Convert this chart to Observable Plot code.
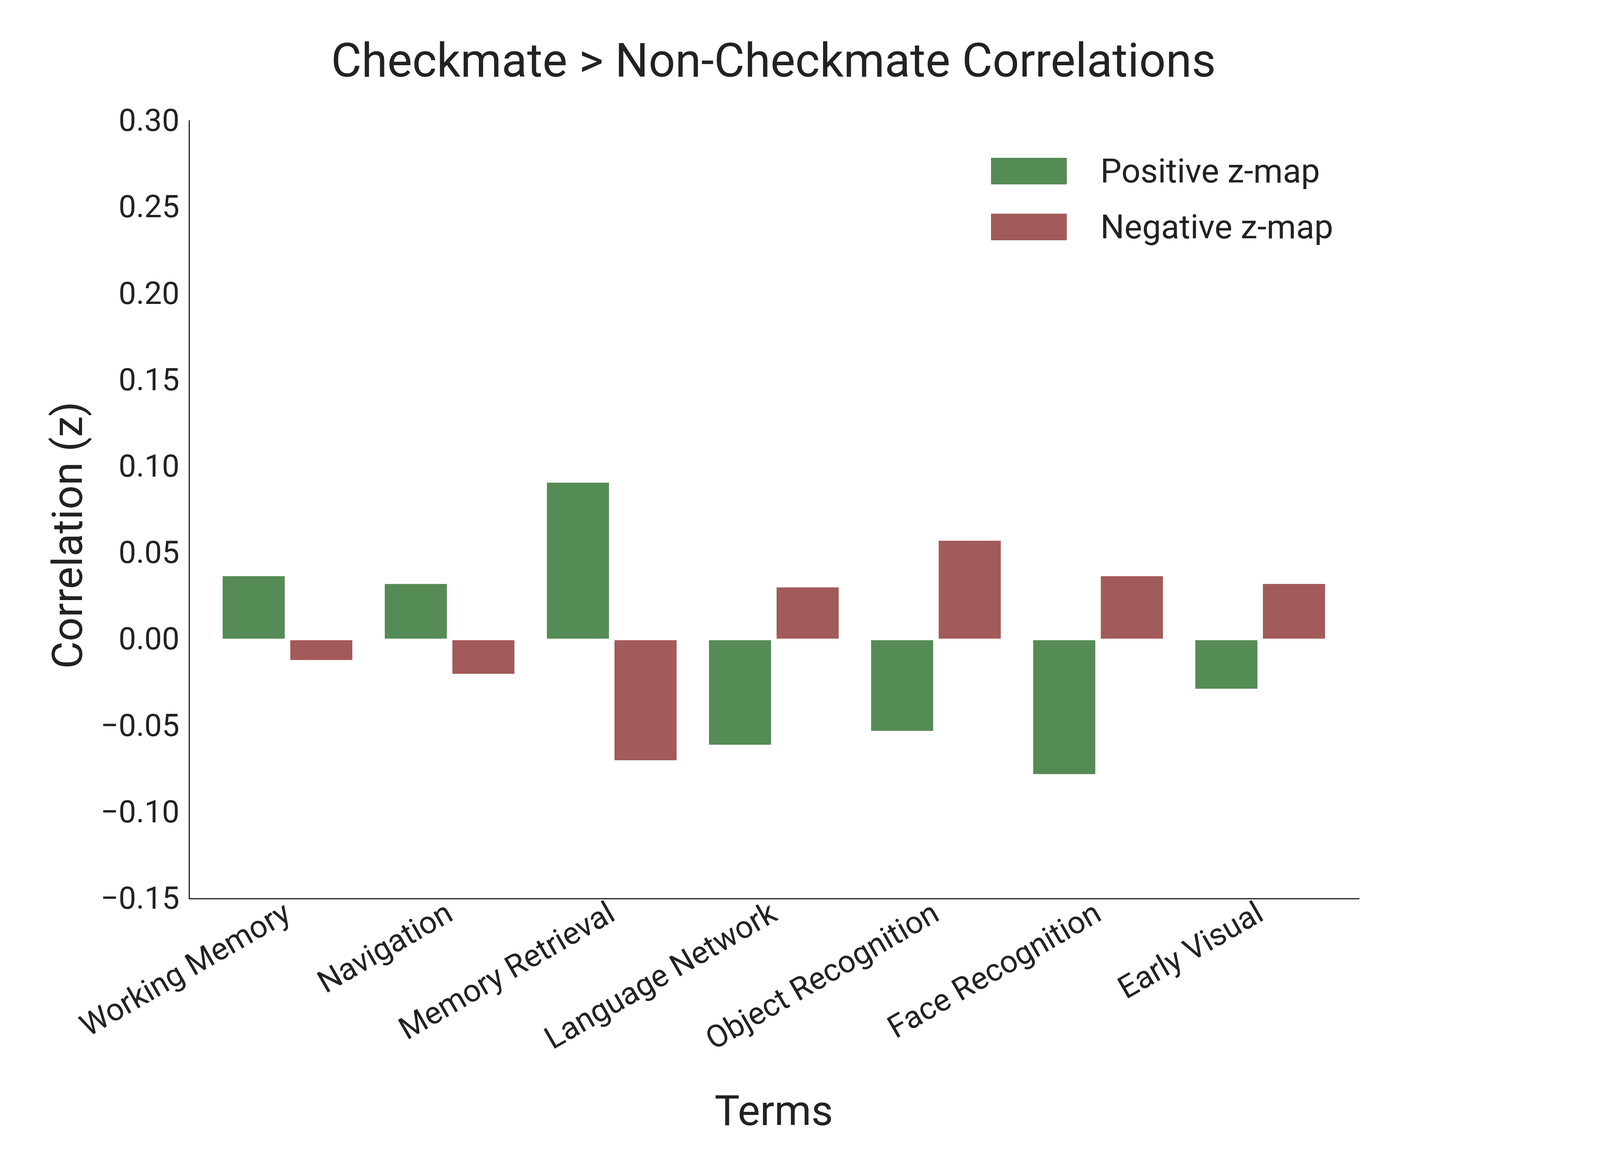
<!DOCTYPE html>
<html>
<head>
<meta charset="utf-8">
<script src="https://cdn.jsdelivr.net/npm/d3@7"></script>
<script src="https://cdn.jsdelivr.net/npm/@observablehq/plot@0.6"></script>
<style>
  body { margin: 0; background: #fff; }
  #wrap { position: relative; width: 4200px; height: 3000px; font-family: "Liberation Sans Narrow", "Roboto", sans-serif; color: #222; }
  #title { position: absolute; top: 85px; width: 3960px; text-align: center; font-size: 120px; }
  .lg { position: absolute; left: 2537px; font-size: 86px; display: flex; align-items: center; }
  .sw { width: 194px; height: 68px; margin-right: 86px; }
</style>
</head>
<body>
<div id="wrap">
  <div id="title">Checkmate &gt; Non-Checkmate Correlations</div>
  <div id="chart"></div>
  <div class="lg" style="top:387px"><div class="sw" style="background:#558b55"></div>Positive z-map</div>
  <div class="lg" style="top:530px"><div class="sw" style="background:#a35a5a"></div>Negative z-map</div>
</div>
<script>
const terms = ['Working Memory', 'Navigation', 'Memory Retrieval', 'Language Network', 'Object Recognition', 'Face Recognition', 'Early Visual']
const positive = [0.0365, 0.032, 0.0906, -0.061, -0.053, -0.078, -0.0286]
const negative = [-0.012, -0.020, -0.070, 0.030, 0.057, 0.0365, 0.032]
const yTicks = [-0.15, -0.10, -0.05, 0.00, 0.05, 0.10, 0.15, 0.20, 0.25, 0.30]

const pos = terms.map((t, i) => ({ term: t, value: positive[i] }))
const neg = terms.map((t, i) => ({ term: t, value: negative[i] }))

const half = (3478 - 484) / 7 * 0.8 / 2

const chart = Plot.plot({
  width: 4200,
  height: 3000,
  marginLeft: 484,
  marginRight: 722,
  marginTop: 309,
  marginBottom: 700,
  style: { fontFamily: '"Liberation Sans Narrow", Roboto, sans-serif', fontSize: '80px', color: '#222' },
  x: { domain: terms, padding: 0.2, label: null, tickSize: 0, tickRotate: -30, tickPadding: 30 },
  y: { domain: [-0.15, 0.30], ticks: yTicks, tickFormat: d3.format('.2f'), tickSize: 0, tickPadding: 25, label: null },
  marks: [
    Plot.barY(pos, { x: 'term', y: 'value', fill: '#558b55', insetRight: half + 2 }),
    Plot.barY(neg, { x: 'term', y: 'value', fill: '#a35a5a', insetLeft: half + 2 }),
    Plot.ruleY([0], { stroke: 'white', strokeWidth: 4 }),
    Plot.frame({ anchor: 'left', stroke: '#222', strokeWidth: 3 }),
    Plot.frame({ anchor: 'bottom', stroke: '#222', strokeWidth: 3 })
  ]
})
d3.select('#chart').append(() => chart)

const svg = d3.select(chart)
svg.append('text').attr('x', 1981).attr('y', 2880).attr('text-anchor', 'middle')
  .style('font-size', '108px').attr('fill', '#222').text('Terms')
svg.append('text').attr('transform', 'translate(210,1370) rotate(-90)').attr('text-anchor', 'middle')
  .style('font-size', '108px').attr('fill', '#222').text('Correlation (z)')
</script>
</body>
</html>
